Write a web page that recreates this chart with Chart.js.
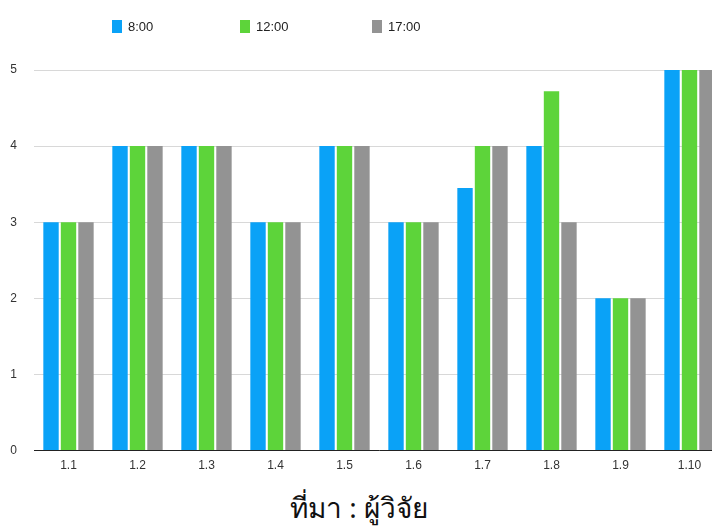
<!DOCTYPE html>
<html>
<head>
<meta charset="utf-8">
<script src="https://cdn.jsdelivr.net/npm/chart.js@4"></script>
<style>
  html, body { margin: 0; padding: 0; background: #fff; overflow: hidden; width: 712px; height: 527px; }
  #wrap { position: absolute; left: 0; top: 0; width: 724px; height: 481px; }
  #fonte { position: absolute; left: 0; width: 718px; top: 486px; text-align: center;
           font-family: "Noto Sans", "DejaVu Sans", sans-serif; font-size: 28px; color: #111; }
</style>
</head>
<body>
<div id="wrap"><canvas id="grafico"></canvas></div>
<div id="fonte">ที่มา : ผู้วิจัย</div>
<script>
// Dados
const categorias = ['1.1', '1.2', '1.3', '1.4', '1.5', '1.6', '1.7', '1.8', '1.9', '1.10'];
const serie0800 = [3, 4, 4, 3, 4, 3, 3.45, 4, 2, 5];
const serie1200 = [3, 4, 4, 3, 4, 3, 4, 4.72, 2, 5];
const serie1700 = [3, 4, 4, 3, 4, 3, 4, 3, 2, 5];
const ticksY = [0, 1, 2, 3, 4, 5];

const fonte = "'Liberation Sans', Arial, sans-serif";

function conjunto(label, data, cor) {
  return {
    label,
    data,
    backgroundColor: cor,
    borderWidth: 0,
    barPercentage: 0.88,
    categoryPercentage: 0.76
  };
}

// Legenda desenhada à mão (itens bem espaçados)
const legendaManual = {
  id: 'legendaManual',
  afterDraw(chart) {
    const ctx = chart.ctx;
    const xs = [112, 240, 372];
    ctx.save();
    ctx.font = '13px ' + fonte;
    ctx.textBaseline = 'middle';
    chart.data.datasets.forEach((ds, i) => {
      ctx.fillStyle = ds.backgroundColor;
      ctx.fillRect(xs[i], 20, 10, 13);
      ctx.fillStyle = '#222';
      ctx.fillText(ds.label, xs[i] + 16, 27);
    });
    ctx.restore();
  }
};

new Chart(document.getElementById('grafico'), {
  type: 'bar',
  data: {
    labels: categorias,
    datasets: [
      conjunto('8:00', serie0800, '#0aa2f7'),
      conjunto('12:00', serie1200, '#5dd43a'),
      conjunto('17:00', serie1700, '#939393')
    ]
  },
  options: {
    responsive: true,
    maintainAspectRatio: false,
    animation: false,
    layout: { padding: { top: 70, left: 10, right: 0, bottom: 0 } },
    plugins: {
      legend: { display: false },
      tooltip: { enabled: false }
    },
    scales: {
      x: {
        grid: { display: false, drawTicks: false },
        border: { color: '#222', width: 1 },
        ticks: { font: { family: fonte, size: 12 }, color: '#333', padding: 8 }
      },
      y: {
        min: 0,
        max: 5,
        afterBuildTicks: (axis) => { axis.ticks = ticksY.map(v => ({ value: v })); },
        afterFit: (axis) => { axis.width = 24; },
        grid: { color: '#d8d8d8', drawTicks: false },
        border: { display: false },
        ticks: { font: { family: fonte, size: 12 }, color: '#333', padding: 17 }
      }
    }
  },
  plugins: [legendaManual]
});
</script>
</body>
</html>
